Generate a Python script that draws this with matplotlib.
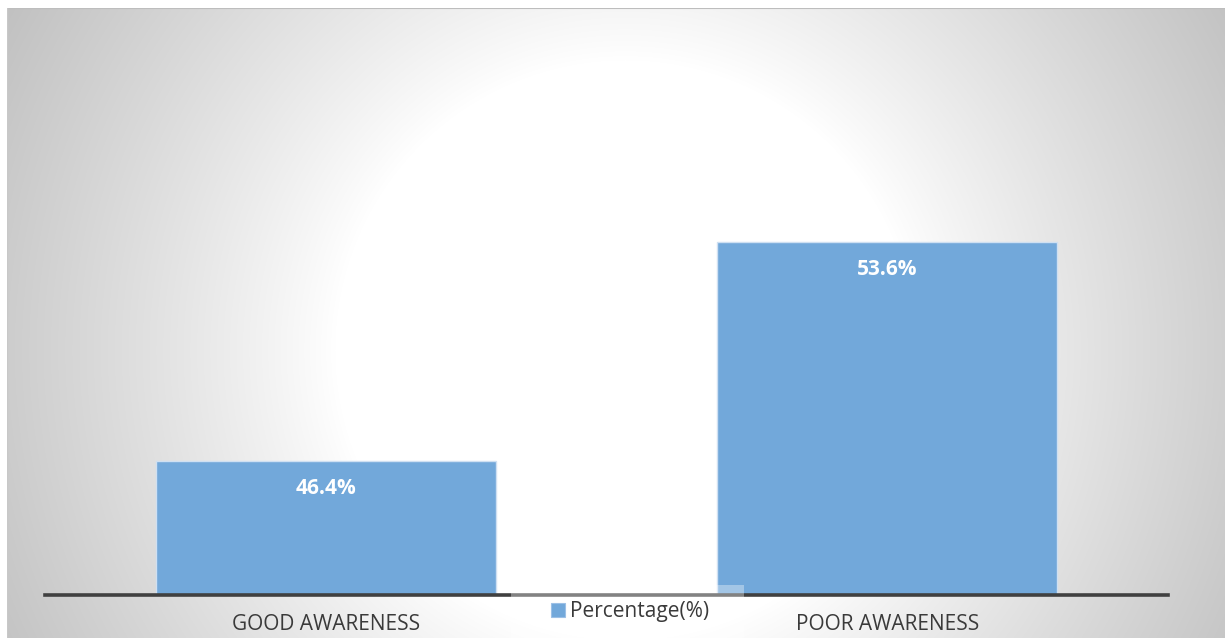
import numpy as np
import matplotlib
matplotlib.use("Agg")
import matplotlib.pyplot as plt
from matplotlib.patches import Rectangle

categories = ["GOOD AWARENESS", "POOR AWARENESS"]
percentages = [46.4, 53.6]
series_name = "Percentage(%)"

W, H, DPI = 1225, 638, 100
BAR_COLOR = "#72A8DA"
TEXT_COLOR = "#3a3a3a"
FONT = ["Open Sans", "DejaVu Sans"]

fig = plt.figure(figsize=(W / DPI, H / DPI), dpi=DPI)
fig.patch.set_facecolor("white")

# chart area with radial gradient background
x0, y0 = 7, 8
bg = fig.add_axes([x0 / W, 0, 1 - x0 / W, (H - y0) / H])
bg.set_axis_off()
gw, gh = W - x0, H - y0
xx, yy = np.meshgrid(np.arange(gw) + x0, np.arange(gh) + y0)
r = np.hypot(xx - 625, yy - 350)
t = np.clip((r - 290) / 420, 0, 1)
val = 1.0 - 0.245 * t ** 0.9
img = np.dstack([val, val, val])
bg.imshow(img, extent=[0, 1, 0, 1], aspect="auto", origin="upper")
bg.set_xlim(0, 1)
bg.set_ylim(0, 1)
bg.axhline(1, color="#bdbdbd", lw=1.5)
bg.axvline(0, color="#c8c8c8", lw=1)

# plot area
ax_left, ax_right = 45, 1168
base_px, top_px = 595, 47.5
ax = fig.add_axes([ax_left / W, 1 - base_px / H, (ax_right - ax_left) / W, (base_px - top_px) / H])
ax.set_facecolor("none")
ax.set_xlim(-0.5, 1.5)
ax.set_ylim(42, 60)
xs = np.arange(len(categories))
bars = ax.bar(xs, percentages, width=0.606, bottom=0, color=BAR_COLOR,
              edgecolor="#cfe0f2", linewidth=1.0, zorder=2)
for b, v in zip(bars, percentages):
    ax.text(b.get_x() + b.get_width() / 2, v - 0.9, f"{v}%", ha="center", va="center",
            color="white", fontsize=15, fontweight="bold", family=FONT, zorder=3)
for s in ["top", "right", "left"]:
    ax.spines[s].set_visible(False)
ax.spines["bottom"].set_color("#404040")
ax.spines["bottom"].set_linewidth(2.6)
ax.spines["bottom"].set_zorder(4)
ax.set_yticks([])
ax.set_xticks(xs)
ax.set_xticklabels(categories, fontsize=15, color=TEXT_COLOR, family=FONT)
ax.tick_params(axis="x", length=0, pad=14)

# legend box at the bottom centre
lg = fig.add_axes([0, 0, 1, 1])
lg.set_axis_off()
lg.set_xlim(0, W)
lg.set_ylim(H, 0)
lg.add_patch(Rectangle((511, 585), 233, 60, facecolor="white", alpha=0.35, edgecolor="none", zorder=5))
lg.add_patch(Rectangle((551, 603), 14, 14, facecolor=BAR_COLOR, edgecolor="#9cc0e6", lw=0.8, zorder=6))
lg.text(570, 611, series_name, ha="left", va="center", fontsize=15, color=TEXT_COLOR,
        family=FONT, zorder=6)

fig.savefig("out.png", dpi=DPI)
